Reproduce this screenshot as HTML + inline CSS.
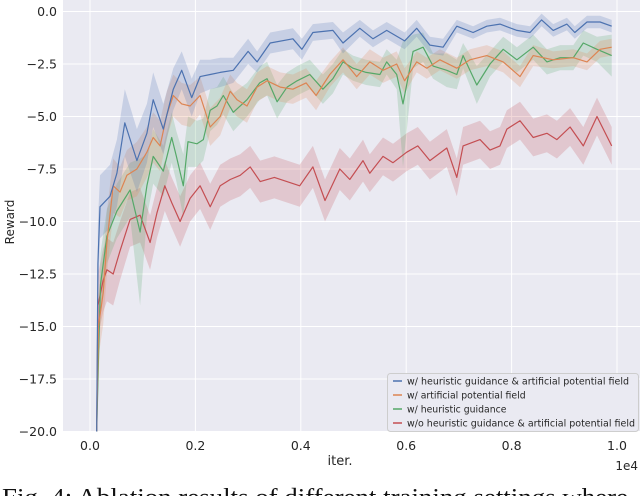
<!DOCTYPE html>
<html><head><meta charset="utf-8"><style>
html,body{margin:0;padding:0;background:#fff;width:640px;height:496px;overflow:hidden}
svg{display:block}
text{font-family:"DejaVu Sans","Liberation Sans",sans-serif}
</style></head><body>
<svg id="chart" width="640" height="496" viewBox="0 0 640 496" xmlns="http://www.w3.org/2000/svg">
<rect x="63" y="0" width="577" height="432" fill="#eaeaf2"/>
<g id="grid"></g>
<g id="bands"></g>
<g id="lines"></g>
<g id="ticks"></g>
<text x="340" y="465" font-size="13" text-anchor="middle" fill="#262626">iter.</text>
<text x="638" y="470" font-size="12" text-anchor="end" fill="#262626">1e4</text>
<text x="14" y="222" font-size="12" text-anchor="middle" fill="#262626" transform="rotate(-90 14 222)">Reward</text>
<g>
<rect x="387.5" y="373.5" width="251" height="58" rx="3" fill="#eaeaf2" stroke="#cccccc" stroke-width="1" opacity="0.95"/>
<line x1="393" y1="381" x2="402" y2="381" stroke="#4c72b0" stroke-width="1.5"/>
<text x="407" y="384.5" font-size="9.3" textLength="222" lengthAdjust="spacingAndGlyphs" fill="#262626">w/ heuristic guidance &amp; artificial potential field</text>
<line x1="393" y1="395" x2="402" y2="395" stroke="#dd8452" stroke-width="1.5"/>
<text x="407" y="398.5" font-size="9.3" fill="#262626">w/ artificial potential field</text>
<line x1="393" y1="409" x2="402" y2="409" stroke="#55a868" stroke-width="1.5"/>
<text x="407" y="412.5" font-size="9.3" fill="#262626">w/ heuristic guidance</text>
<line x1="393" y1="423" x2="402" y2="423" stroke="#c44e52" stroke-width="1.5"/>
<text x="407" y="426.5" font-size="9.3" textLength="228" lengthAdjust="spacingAndGlyphs" fill="#262626">w/o heuristic guidance &amp; artificial potential field</text>
</g>
<text x="2" y="505" font-size="24" textLength="626" lengthAdjust="spacingAndGlyphs" fill="#111" style="font-family:'Liberation Serif',serif">Fig. 4: Ablation results of different training settings where</text>
</svg>
<script>
const xTicks=[0,0.2,0.4,0.6,0.8,1.0];
const xTickLabels=["0.0","0.2","0.4","0.6","0.8","1.0"];
const yTicks=[0,-2.5,-5,-7.5,-10,-12.5,-15,-17.5,-20];
const yTickLabels=["0.0","\u22122.5","\u22125.0","\u22127.5","\u221210.0","\u221212.5","\u221215.0","\u221217.5","\u221220.0"];

const blueIter=[127,150,190,380,510,660,890,1080,1200,1390,1580,1740,1930,2090,2280,2470,2720,3000,3170,3420,3850,4020,4230,4610,4800,5120,5370,5630,5970,6200,6450,6700,6960,7270,7530,7780,8100,8350,8570,8790,9050,9200,9430,9680,9900];
const blueVal=[-20,-12,-9.3,-8.8,-7.7,-5.3,-7.1,-5.8,-4.2,-5.6,-3.7,-2.8,-4.1,-3.1,-3.0,-2.9,-2.8,-1.9,-2.4,-1.5,-1.3,-1.8,-1.0,-0.9,-1.5,-0.8,-1.3,-0.9,-1.4,-0.8,-1.6,-1.7,-0.7,-1.0,-0.7,-0.6,-0.9,-1.0,-0.4,-0.9,-0.6,-1.0,-0.5,-0.5,-0.7];
const blueSpread=[0,2,1.5,1.5,1.6,1.6,1.5,1.4,1.3,1.2,1.0,0.9,0.9,0.8,0.7,0.7,0.6,0.6,0.5,0.5,0.5,0.5,0.4,0.4,0.5,0.4,0.4,0.4,0.4,0.4,0.4,0.4,0.3,0.3,0.3,0.3,0.3,0.3,0.3,0.3,0.3,0.3,0.3,0.3,0.3];

const orangeIter=[127,160,250,320,440,570,700,890,1080,1200,1330,1460,1580,1740,1900,2090,2280,2470,2660,2790,2980,3170,3360,3610,3850,4100,4290,4550,4800,5060,5310,5560,5820,5970,6200,6390,6640,6960,7210,7530,7840,8160,8410,8790,9170,9430,9680,9900];
const orangeVal=[-20,-15,-13.4,-11,-8.3,-8.6,-7.8,-7.5,-6.7,-6.0,-6.4,-4.9,-4.0,-4.4,-4.5,-4.0,-5.5,-5.0,-3.8,-4.2,-4.5,-3.6,-3.3,-3.6,-3.7,-3.4,-4.0,-3.0,-2.3,-3.1,-2.4,-2.8,-2.5,-3.3,-2.4,-2.7,-2.3,-2.7,-2.3,-2.1,-2.4,-3.1,-2.1,-2.3,-2.2,-2.4,-1.8,-1.7];
const orangeSpread=[0,1.5,1.5,1.5,1.3,1.2,1.2,1.3,1.2,1.2,1.2,1.1,1.0,1.0,1.0,0.9,0.9,0.9,0.8,0.8,0.8,0.7,0.7,0.7,0.7,0.7,0.7,0.6,0.6,0.6,0.6,0.6,0.6,0.6,0.5,0.5,0.5,0.5,0.5,0.5,0.5,0.5,0.5,0.4,0.4,0.4,0.4,0.4];

const greenIter=[127,170,200,320,510,760,950,1080,1200,1390,1550,1640,1770,1860,2030,2150,2280,2410,2530,2720,2980,3220,3360,3550,3740,3930,4170,4420,4610,4800,4990,5240,5500,5630,5820,5940,6130,6320,6510,6770,6960,7080,7340,7590,7840,8100,8410,8670,8920,9170,9360,9620,9900];
const greenVal=[-20,-15.5,-13,-10.7,-9.5,-8.5,-10.5,-8.3,-6.9,-7.6,-6.0,-6.9,-8.3,-6.2,-6.3,-6.1,-4.7,-4.5,-4.0,-4.8,-4.2,-3.4,-3.2,-4.3,-3.6,-3.3,-3.0,-3.7,-3.2,-2.4,-2.7,-2.9,-3.0,-2.4,-3.0,-4.4,-1.9,-1.7,-2.6,-2.8,-3.0,-2.1,-3.5,-2.5,-1.8,-2.3,-1.7,-2.4,-2.2,-2.2,-1.5,-1.8,-2.1];
const greenSpread=[0,1.5,1.5,1.3,1.3,1.3,3.5,1.5,1.3,1.2,1.2,1.2,1.5,1.2,1.1,1.0,1.0,0.9,0.9,0.9,0.8,0.8,0.8,0.8,0.7,0.7,0.7,0.7,0.7,0.6,0.6,0.6,0.6,0.6,0.7,3.0,0.8,0.7,0.6,0.8,0.7,0.6,0.9,0.6,0.6,0.6,0.6,0.6,0.6,0.6,0.6,0.6,1.0];

const redIter=[127,150,250,320,440,570,760,950,1140,1270,1420,1550,1710,1900,2090,2280,2470,2660,2850,3040,3230,3500,3980,4230,4460,4740,4930,5180,5310,5560,5750,6010,6220,6450,6770,6960,7080,7400,7590,7780,7910,8160,8410,8670,8860,9110,9360,9620,9900];
const redVal=[-20,-14,-12.8,-12.3,-12.5,-11.4,-9.9,-9.7,-11.0,-9.6,-8.3,-9.1,-10.0,-8.9,-8.3,-9.3,-8.3,-8.0,-7.8,-7.4,-8.1,-7.9,-8.3,-7.4,-9.0,-7.5,-8.0,-7.1,-7.7,-6.9,-7.2,-6.7,-6.4,-7.1,-6.5,-7.9,-6.4,-6.1,-6.6,-6.4,-5.6,-5.2,-6.0,-5.8,-6.1,-5.5,-6.4,-5.0,-6.4];
const redSpread=[0,1.5,1.5,1.5,1.5,1.4,1.3,1.3,1.3,1.2,1.2,1.2,1.2,1.1,1.1,1.1,1.0,1.0,1.0,1.0,1.0,1.0,1.0,1.0,1.0,1.0,1.0,1.0,0.9,0.9,0.9,0.9,0.9,0.9,0.9,0.9,0.9,0.9,0.9,0.9,0.9,0.9,0.9,0.9,0.9,0.9,0.9,0.9,0.9];

const NS="http://www.w3.org/2000/svg";
function xs(it){return 90+it/10000*527;}
function ys(v){return 11.5-v*21;}
function mk(tag,attrs,parent){const e=document.createElementNS(NS,tag);for(const k in attrs)e.setAttribute(k,attrs[k]);parent.appendChild(e);return e;}
const grid=document.getElementById('grid'),ticks=document.getElementById('ticks');
xTicks.forEach((t,i)=>{
  const l=mk('line',{x1:xs(t*10000),x2:xs(t*10000),y1:0,y2:432,stroke:'#fff','stroke-width':1},grid);
  
  
  const tx=mk('text',{x:xs(t*10000),y:450,'font-size':12.5,'text-anchor':'middle',fill:'#262626'},ticks);
  tx.textContent=xTickLabels[i];
  
  
});
yTicks.forEach((t,i)=>{
  const l=mk('line',{x1:63,x2:640,y1:ys(t),y2:ys(t),stroke:'#fff','stroke-width':1},grid);
  
  
  const tx=mk('text',{x:57,y:ys(t)+4.5,'font-size':12.5,'text-anchor':'end',fill:'#262626'},ticks);
  tx.textContent=yTickLabels[i];
  
  
});
function series(name,its,vals,spr,color){
  let up='',lo='';
  its.forEach((it,i)=>{up+=(i?'L':'M')+xs(it).toFixed(1)+','+ys(Math.min(vals[i]+spr[i],0.3)).toFixed(1);});
  for(let i=its.length-1;i>=0;i--){lo+='L'+xs(its[i]).toFixed(1)+','+ys(Math.max(vals[i]-spr[i],-20)).toFixed(1);}
  const b=mk('path',{d:up+lo+'Z',fill:color,'fill-opacity':0.22,stroke:'none'},document.getElementById('bands'));
  
  
  let d='';
  its.forEach((it,i)=>{d+=(i?'L':'M')+xs(it).toFixed(1)+','+ys(vals[i]).toFixed(1);});
  const p=mk('path',{d:d,fill:'none',stroke:color,'stroke-width':1.2,'stroke-linejoin':'round'},document.getElementById('lines'));
  
  
}
series('red',redIter,redVal,redSpread,'#c44e52');
series('green',greenIter,greenVal,greenSpread,'#55a868');
series('orange',orangeIter,orangeVal,orangeSpread,'#dd8452');
series('blue',blueIter,blueVal,blueSpread,'#4c72b0');
</script>
</body></html>
